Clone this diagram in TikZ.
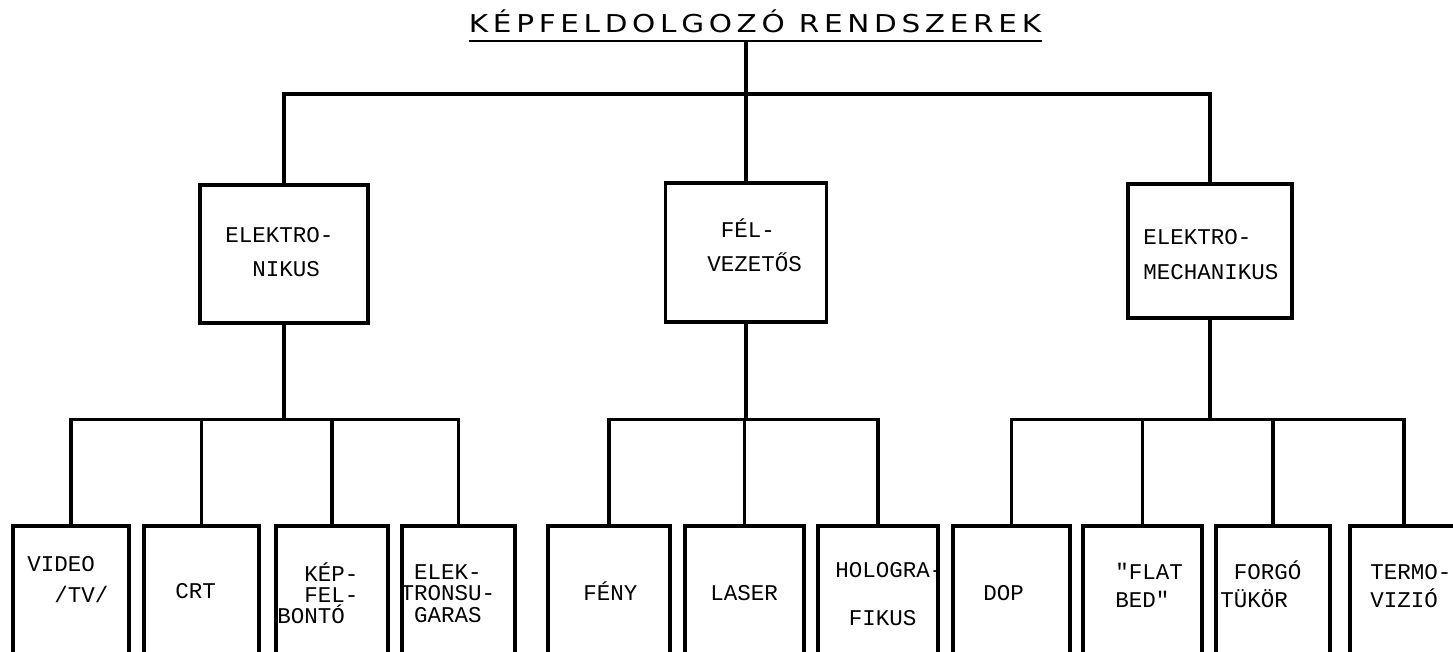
\documentclass[tikz,border=0pt]{standalone}
\usepackage{fontspec}
\usepackage{tikz}
\newfontfamily\typewr{Liberation Mono}
\newfontfamily\titlefnt[FakeStretch=1.2,LetterSpace=19]{DejaVu Sans}

\begin{document}
\begin{tikzpicture}[x=0.5pt,y=-0.5pt,
  box/.style={draw,line width=1.8pt,inner sep=0pt},
  link/.style={line width=1.6pt},
  uline/.style={line width=1.2pt},
  typed/.style={font=\typewr\fontsize{11.25pt}{13.5pt}\selectfont,align=left,anchor=base west,inner sep=0pt},
  titletxt/.style={font=\titlefnt\fontsize{12.3pt}{14pt}\selectfont,anchor=base,inner xsep=0pt,inner ysep=3.5pt}]
  \useasboundingbox (0,0) rectangle (1453,652);
  % title
  \node[titletxt] (title) at (755,33) {KÉPFELDOLGOZÓ RENDSZEREK};
  \draw[uline] (title.south west) -- (title.south east);
  % second level
  \node[box,minimum width=84pt,minimum height=69pt] (elek) at (284,254) {};
  \node[box,minimum width=80.5pt,minimum height=69.5pt] (felv) at (746,252.5) {};
  \node[box,minimum width=82pt,minimum height=67pt] (mech) at (1210,251) {};
  \coordinate (topbus) at (746,94);
  \draw[link] (title.south -| felv.north) -- (felv.north);
  \draw[link] (elek.north) |- (topbus) -| (mech.north);
  % third level
  \foreach \n/\x/\w in {b1/71/58pt,b2/201.5/57.5pt,b3/332/56pt,b4/458.5/56.5pt,
      b5/609/61pt,b6/744.5/59.5pt,b7/878/60pt,
      b8/1011.5/58.5pt,b9/1142.5/59.5pt,b10/1273/57pt,b11/1404/54pt}
    \node[box,minimum width=\w,minimum height=75pt] (\n) at (\x,601) {};
  \foreach \p/\d/\l/\r/\m in {elek/95/b1/b4/{b2,b3},felv/96/b5/b7/{b6},mech/100/b8/b11/{b9,b10}}{
    \draw[link] (\p.south) -- ++(0,\d) coordinate (bus\p);
    \draw[link] (\l.north) |- (bus\p) -| (\r.north);
    \foreach \k in \m \draw[link] (\k.north) -- (\k.north |- bus\p);
  }
  % typed labels (anchored at the last line)
  \node[typed] (telek) at (225,277) {ELEKTRO-\\[3.5pt]\hphantom{XX}NIKUS};
  \node[typed] (tfelv) at (707,272) {\hphantom{X}FÉL-\\[3.5pt]VEZETŐS};
  \node[typed] (tmech) at (1143,280) {ELEKTRO-\\[4pt]MECHANIKUS};
  \node[typed] (t1) at (27,603) {VIDEO\\[2pt]\hphantom{XX}/TV/};
  \node[typed] (t2) at (175,598) {CRT};
  \node[typed] (t3) at (277,624) {\hphantom{XX}KÉP-\\[-3pt]\hphantom{XX}FEL-\\[-3pt]BONTÓ};
  \node[typed,align=center,anchor=base] (t4) at (448,622) {ELEK-\\[-3pt]TRONSU-\\[-3pt]GARAS};
  \node[typed] (t5) at (583,600) {FÉNY};
  \node[typed] (t6) at (710,600) {LASER};
  \node[typed] (t7) at (835,625) {HOLOGRA-\\[10.5pt]\hphantom{X}FIKUS};
  \node[typed] (t8) at (983,600) {DOP};
  \node[typed] (t9) at (1115,607) {"FLAT\\BED"};
  \node[typed] (t10) at (1220,607) {\hphantom{X}FORGÓ\\TÜKÖR};
  \node[typed] (t11) at (1370,607) {TERMO-\\VIZIÓ};
\end{tikzpicture}
\end{document}
